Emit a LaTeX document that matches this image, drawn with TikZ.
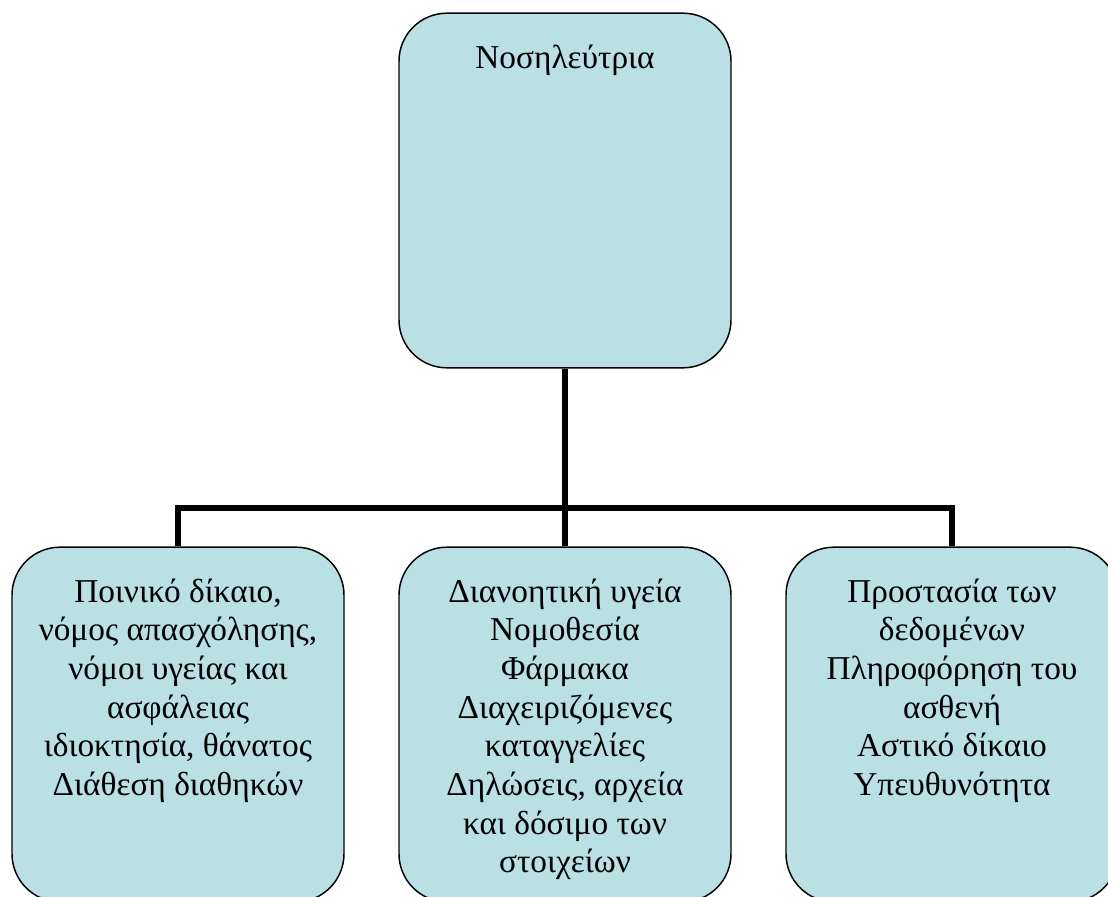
\documentclass[tikz,border=0pt]{standalone}
\usepackage{fontspec}
\setmainfont{Liberation Serif}
\usetikzlibrary{positioning}
\definecolor{boxfill}{RGB}{187,224,227}
\tikzset{
  orgbox/.style={draw=black, line width=1.1pt, fill=boxfill, rounded corners=36pt,
    minimum width=249pt, minimum height=266pt, inner sep=0pt},
  boxtext/.style={align=center, inner sep=0pt, font=\fontsize{25}{29}\selectfont},
  conn/.style={line width=3.8pt}
}
\begin{document}
\begin{tikzpicture}[x=0.75pt,y=-0.75pt]
  \useasboundingbox (0,0) rectangle (1108,897);
  \clip (0,0) rectangle (1108,897);

  % boxes
  \node[orgbox] (nurse) at (565,190.5) {};
  \node[orgbox] (crim) at (178,724.5) {};
  \node[orgbox] (mind) at (565,724.5) {};
  \node[orgbox] (data) at (952,724.5) {};

  % texts
  \node[boxtext, below=24pt of nurse.north] (nursetext) {Νοσηλεύτρια};
  \node[boxtext, below=24pt of crim.north] (crimtext) {Ποινικό δίκαιο,\\νόμος απασχόλησης,\\νόμοι υγείας και\\ασφάλειας\\ιδιοκτησία, θάνατος\\Διάθεση διαθηκών};
  \node[boxtext, below=24pt of mind.north] (mindtext) {Διανοητική υγεία\\Νομοθεσία\\Φάρμακα\\Διαχειριζόμενες\\καταγγελίες\\Δηλώσεις, αρχεία\\και δόσιμο των\\στοιχείων};
  \node[boxtext, below=24pt of data.north] (datatext) {Προστασία των\\δεδομένων\\Πληροφόρηση του\\ασθενή\\Αστικό δίκαιο\\Υπευθυνότητα};

  % connectors
  \coordinate (bus) at (565,508);
  \draw[conn] (nurse.south) -- (mind.north);
  \draw[conn] (crim.north) |- (bus) -| (data.north);
\end{tikzpicture}
\end{document}
